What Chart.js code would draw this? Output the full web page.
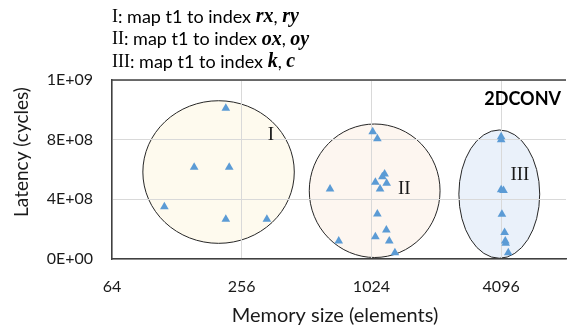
<!DOCTYPE html>
<html>
<head>
<meta charset="utf-8">
<script src="https://cdn.jsdelivr.net/npm/chart.js@4"></script>
<style>
  html, body { margin: 0; padding: 0; background: #fff; overflow: hidden; }
</style>
</head>
<body>
<canvas id="chart" width="571" height="331"></canvas>
<script>
// memory size (elements) / latency (cycles) per mapping group
const groupIx = [216, 154, 224, 112, 216, 335];
const groupIy = [1.01e9, 6.15e8, 6.15e8, 3.5e8, 2.66e8, 2.66e8];
const groupIIx = [1038, 1091, 1179, 1151, 1068, 1205, 1123, 658, 1091, 1201, 1068, 1239, 722, 1316];
const groupIIy = [8.53e8, 8.06e8, 5.7e8, 5.52e8, 5.14e8, 5.07e8, 4.69e8, 4.69e8, 3.02e8, 1.94e8, 1.5e8, 1.21e8, 1.21e8, 0.42e8];
const groupIIIx = [4096, 4096, 4096, 4200, 4130, 4250, 4280, 4300, 4420];
const groupIIIy = [8.2e8, 8.0e8, 4.65e8, 4.6e8, 3.0e8, 1.78e8, 1.2e8, 1.05e8, 0.42e8];

const xTicks = [64, 256, 1024, 4096];
const groupNames = ['I', 'II', 'III'];
// group outlines, in data units: [min, max]
const groupSpanX = [[89, 449], [527, 2132], [2607, 6185]];
const groupSpanY = [[1.05e8, 1.061e9], [0.01e9, 9.05e8], [0.005e9, 8.65e8]];
const groupLabelX = [350, 1456, 5007];
const groupLabelY = [8.31e8, 4.69e8, 5.63e8];
const groupFill = ['#fefaee', '#fdf6f0', '#eaf1fa'];

const noteLines = [
  ['I', ': map t1 to index ', 'rx', ', ', 'ry'],
  ['II', ': map t1 to index ', 'ox', ', ', 'oy'],
  ['III', ': map t1 to index ', 'k', ', ', 'c']
];
const xTitle = 'Memory size (elements)';
const yTitle = 'Latency (cycles)';

const SANS = 'Lato, "Open Sans", sans-serif';
const SERIF = '"Liberation Serif", "DejaVu Serif", serif';

const toPoints = (xs, ys) => xs.map((x, i) => ({x: x, y: ys[i]}));

const expLabel = (v) => {
  const parts = Number(v).toExponential(0).split('e');
  const exp = parseInt(parts[1], 10);
  return parts[0] + 'E' + (exp < 0 ? '-' : '+') + String(Math.abs(exp)).padStart(2, '0');
};

const groupsPlugin = {
  id: 'groups',
  beforeDraw(chart) {
    const {ctx, scales: {x, y}} = chart;
    ctx.save();
    groupSpanX.forEach((span, i) => {
      const x0 = x.getPixelForValue(span[0]), x1 = x.getPixelForValue(span[1]);
      const y0 = y.getPixelForValue(groupSpanY[i][0]), y1 = y.getPixelForValue(groupSpanY[i][1]);
      ctx.beginPath();
      ctx.ellipse((x0 + x1) / 2, (y0 + y1) / 2, (x1 - x0) / 2, (y0 - y1) / 2, 0, 0, Math.PI * 2);
      ctx.fillStyle = groupFill[i];
      ctx.fill();
      ctx.lineWidth = 1;
      ctx.strokeStyle = '#262626';
      ctx.stroke();
    });
    ctx.restore();
  },
  beforeDatasetsDraw(chart) {
    const {ctx, chartArea, scales: {x, y}} = chart;
    ctx.save();
    // top frame line
    ctx.strokeStyle = '#404040';
    ctx.lineWidth = 1.5;
    ctx.beginPath();
    ctx.moveTo(chartArea.left, chartArea.top);
    ctx.lineTo(chartArea.right, chartArea.top);
    ctx.stroke();

    ctx.fillStyle = '#1a1a1a';
    ctx.font = '19px ' + SERIF;
    ctx.textAlign = 'center';
    ctx.textBaseline = 'middle';
    groupNames.forEach((name, i) => {
      ctx.fillText(name, x.getPixelForValue(groupLabelX[i]), y.getPixelForValue(groupLabelY[i]));
    });

    ctx.font = 'bold 18px ' + SANS;
    ctx.fillStyle = '#000';
    ctx.textAlign = 'right';
    ctx.fillText('2DCONV', chartArea.right - 5, chartArea.top + 19);
    ctx.restore();
  },
  afterDraw(chart) {
    const {ctx} = chart;
    ctx.save();
    ctx.textBaseline = 'middle';
    ctx.textAlign = 'left';
    ctx.fillStyle = '#000';
    const fonts = ['18px ' + SERIF, '18px ' + SANS, 'italic bold 20px ' + SERIF, '18px ' + SANS, 'italic bold 20px ' + SERIF];
    noteLines.forEach((parts, row) => {
      let px = 112;
      const py = 17 + row * 22.5;
      parts.forEach((t, k) => {
        ctx.font = fonts[k];
        ctx.fillText(t, px, py);
        px += ctx.measureText(t).width;
      });
    });

    // axis titles
    ctx.fillStyle = '#1a1a1a';
    ctx.textAlign = 'center';
    ctx.font = '20px ' + SANS;
    ctx.fillText(xTitle, 335, 316);
    ctx.font = '19px ' + SANS;
    ctx.translate(22, 152);
    ctx.rotate(-Math.PI / 2);
    ctx.fillText(yTitle, 0, 0);
    ctx.restore();
  }
};

const pointStyle = {
  pointStyle: 'triangle',
  pointRadius: 5,
  pointHoverRadius: 5,
  backgroundColor: '#5b9bd5',
  borderColor: '#5b9bd5',
  borderWidth: 0
};

new Chart(document.getElementById('chart'), {
  type: 'scatter',
  data: {
    datasets: [
      {label: 'I', data: toPoints(groupIx, groupIy), ...pointStyle},
      {label: 'II', data: toPoints(groupIIx, groupIIy), ...pointStyle},
      {label: 'III', data: toPoints(groupIIIx, groupIIIy), ...pointStyle}
    ]
  },
  options: {
    responsive: false,
    animation: false,
    devicePixelRatio: 1,
    layout: {padding: {top: 80, left: 0, right: 0, bottom: 0}},
    plugins: {legend: {display: false}, tooltip: {enabled: false}},
    scales: {
      x: {
        type: 'logarithmic',
        min: 64,
        max: 8192,
        afterBuildTicks: (scale) => { scale.ticks = xTicks.map(v => ({value: v})); },
        afterFit: (scale) => { scale.height = 72; },
        ticks: {
          callback: (v) => String(v),
          padding: 18,
          color: '#1a1a1a',
          font: {family: SANS, size: 16},
          maxRotation: 0
        },
        grid: {color: '#d9d9d9', drawTicks: false},
        border: {color: '#404040', width: 1.5}
      },
      y: {
        min: 0,
        max: 1.2e9,
        afterFit: (scale) => { scale.width = 112; },
        ticks: {
          stepSize: 4e8,
          callback: (v) => expLabel(v),
          padding: 19,
          color: '#1a1a1a',
          font: {family: SANS, size: 16}
        },
        grid: {color: '#d9d9d9', drawTicks: false},
        border: {color: '#404040', width: 1.5}
      }
    }
  },
  plugins: [groupsPlugin]
});
</script>
</body>
</html>
